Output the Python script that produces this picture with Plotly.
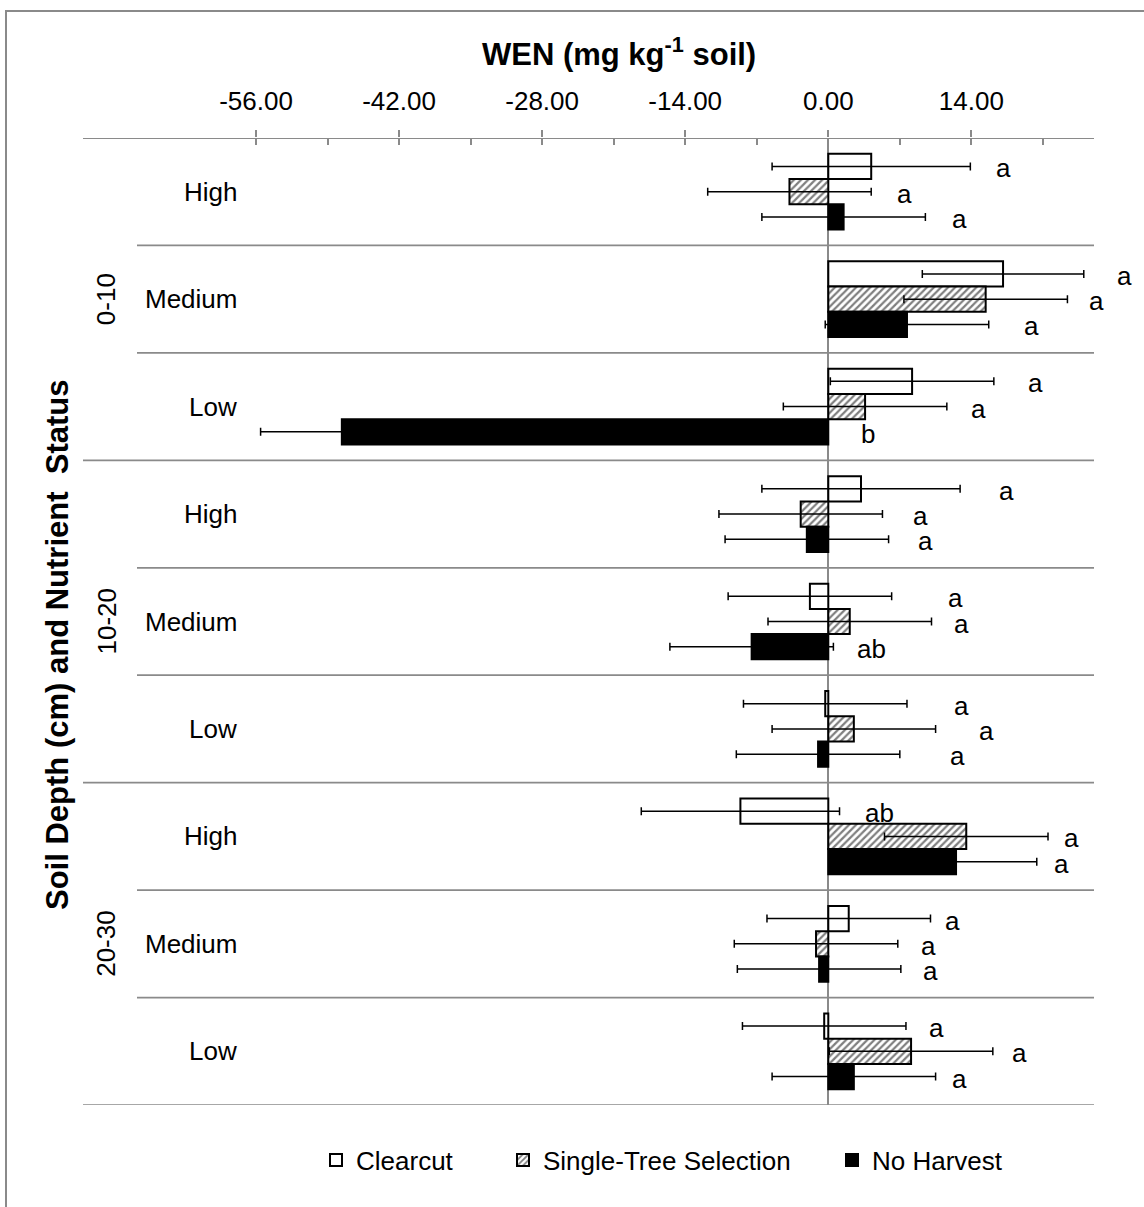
import plotly.graph_objects as go

# Soil depth groups, nutrient status rows and harvest treatments
depths = ["0-10", "10-20", "20-30"]
nutrients = ["High", "Medium", "Low", "High", "Medium", "Low", "High", "Medium", "Low"]
treatments = ["Clearcut", "Single-Tree Selection", "No Harvest"]

# Change in WEN (mg kg-1 soil) per row, with standard errors
clearcut = [4.2, 17.1, 8.2, 3.2, -1.8, -0.3, -8.6, 2.0, -0.4]
clearcut_se = [9.7, 7.9, 8.0, 9.7, 8.0, 8.0, 9.7, 8.0, 8.0]
single_tree = [-3.8, 15.4, 3.6, -2.7, 2.1, 2.5, 13.5, -1.2, 8.1]
single_tree_se = [8.0, 8.0, 8.0, 8.0, 8.0, 8.0, 8.0, 8.0, 8.0]
no_harvest = [1.5, 7.7, -47.6, -2.1, -7.5, -1.0, 12.5, -0.9, 2.5]
no_harvest_se = [8.0, 8.0, 7.95, 8.0, 8.0, 8.0, 7.9, 8.0, 8.0]

# Significance letters
clearcut_sig = ["a", "a", "a", "a", "a", "a", "ab", "a", "a"]
single_tree_sig = ["a", "a", "a", "a", "a", "a", "a", "a", "a"]
no_harvest_sig = ["a", "a", "b", "a", "ab", "a", "a", "a", "a"]

# Where each letter sits along the value axis
clearcut_sig_x = [17.1, 29.0, 20.3, 17.4, 12.4, 13.0, 5.0, 12.2, 10.6]
single_tree_sig_x = [7.5, 26.2, 14.7, 9.0, 13.0, 15.5, 23.8, 9.8, 18.7]
no_harvest_sig_x = [12.8, 19.9, 3.9, 9.5, 4.2, 12.6, 22.8, 10.0, 12.8]

tick_vals = [-56, -42, -28, -14, 0, 14]
minor_vals = [-49, -35, -21, -7, 7, 21]
x_range = [-56, 26]

# Page geometry (pixels)
W, H = 1144, 1207
L, R, T, B = 256, 50, 138, 102
PW, PH = W - L - R, H - T - B
PX_PER_UNIT = PW / (x_range[1] - x_range[0])
FONT = "Liberation Sans, Arial, sans-serif"
GRAY = "#8a8a8a"
FS = 26


def px_x(p):
    return (p - L) / PW


def px_y(p):
    return 1 - (p - T) / PH


rows = list(range(len(nutrients)))

fig = go.Figure()
fig.add_trace(go.Bar(
    x=clearcut, y=rows, orientation="h", name=treatments[0], legend="legend",
    marker=dict(color="white", line=dict(color="black", width=2)),
    error_x=dict(type="data", array=clearcut_se, color="black", thickness=1.5, width=4),
))
fig.add_trace(go.Bar(
    x=single_tree, y=rows, orientation="h", name=treatments[1], legend="legend2",
    marker=dict(color="white", line=dict(color="black", width=2),
                pattern=dict(shape="/", fgcolor="black", bgcolor="white", size=5, solidity=0.45)),
    error_x=dict(type="data", array=single_tree_se, color="black", thickness=1.5, width=4),
))
fig.add_trace(go.Bar(
    x=no_harvest, y=rows, orientation="h", name=treatments[2], legend="legend3",
    marker=dict(color="black", line=dict(color="black", width=2)),
    error_x=dict(type="data", array=no_harvest_se, color="black", thickness=1.5, width=4),
))

shapes = []
# Row separators; depth-group borders reach further into the label column
for k in range(len(rows) + 1):
    x0 = px_x(83) if k % 3 == 0 else px_x(137)
    shapes.append(dict(type="line", xref="paper", yref="y", x0=x0, x1=1,
                       y0=k - 0.5, y1=k - 0.5, line=dict(color=GRAY, width=1.75), layer="below"))
# Chart frame
shapes.append(dict(type="rect", xref="paper", yref="paper",
                   x0=px_x(6), x1=px_x(1160), y0=px_y(1220), y1=px_y(11),
                   line=dict(color=GRAY, width=2), fillcolor="rgba(0,0,0,0)", layer="below"))

annotations = []
annotations.append(dict(text="<b>WEN (mg kg<sup>-1</sup> soil)</b>", xref="paper", yref="paper",
                        x=px_x(619), y=px_y(52), xanchor="center", yanchor="middle",
                        showarrow=False, font=dict(family=FONT, size=31, color="black")))
annotations.append(dict(text="<b>Soil Depth (cm) and Nutrient  Status</b>", xref="paper", yref="paper",
                        x=px_x(57), y=px_y(645), xanchor="center", yanchor="middle",
                        textangle=-90, showarrow=False,
                        font=dict(family=FONT, size=31, color="black")))
for i, d in enumerate(depths):
    annotations.append(dict(text=d, xref="paper", yref="y", x=px_x(106), y=3 * i + 1,
                            xanchor="center", yanchor="middle", textangle=-90, showarrow=False,
                            font=dict(family=FONT, size=FS, color="black")))
for r, n in zip(rows, nutrients):
    annotations.append(dict(text=n, xref="paper", yref="y", x=0, xshift=-17, y=r,
                            xanchor="right", yanchor="middle", showarrow=False,
                            font=dict(family=FONT, size=FS, color="black")))
offsets = [-0.235, 0.0, 0.235]
for sig, sx, off in zip([clearcut_sig, single_tree_sig, no_harvest_sig],
                        [clearcut_sig_x, single_tree_sig_x, no_harvest_sig_x], offsets):
    for r, s, x in zip(rows, sig, sx):
        # letters past the axis end are pinned to the edge and pushed out in pixels
        xa = min(x, x_range[1])
        annotations.append(dict(text=s, xref="x", yref="y", x=xa,
                                xshift=(x - xa) * PX_PER_UNIT, y=r + off, yshift=-2,
                                xanchor="center", yanchor="middle", showarrow=False,
                                font=dict(family=FONT, size=FS, color="black")))

legend_style = dict(orientation="h", yanchor="middle", xanchor="left", y=px_y(1160),
                    font=dict(family=FONT, size=FS, color="black"), bgcolor="rgba(0,0,0,0)",
                    itemwidth=30)

fig.update_layout(
    width=W, height=H,
    margin=dict(l=L, r=R, t=T, b=B, autoexpand=False),
    paper_bgcolor="white", plot_bgcolor="white",
    barmode="group", bargap=0.295, bargroupgap=0,
    showlegend=True,
    legend=dict(x=px_x(316), **legend_style),
    legend2=dict(x=px_x(503), **legend_style),
    legend3=dict(x=px_x(832), **legend_style),
    xaxis=dict(range=x_range, side="top", tickmode="array", tickvals=tick_vals,
               ticktext=[f"{v:.2f}" for v in tick_vals],
               ticks="outside", ticklen=7, tickwidth=1.5, tickcolor=GRAY,
               minor=dict(tickmode="array", tickvals=minor_vals + tick_vals, ticks="inside",
                          ticklen=7, tickwidth=1.5, tickcolor=GRAY),
               ticklabelstandoff=10,
               tickfont=dict(family=FONT, size=FS, color="black"),
               showgrid=False, showline=False,
               zeroline=True, zerolinecolor=GRAY, zerolinewidth=1.75, fixedrange=True),
    yaxis=dict(range=[8.5, -0.5], showticklabels=False, showgrid=False, zeroline=False,
               showline=False, ticks="", fixedrange=True),
    shapes=shapes, annotations=annotations,
)

fig.write_html("out.html")
